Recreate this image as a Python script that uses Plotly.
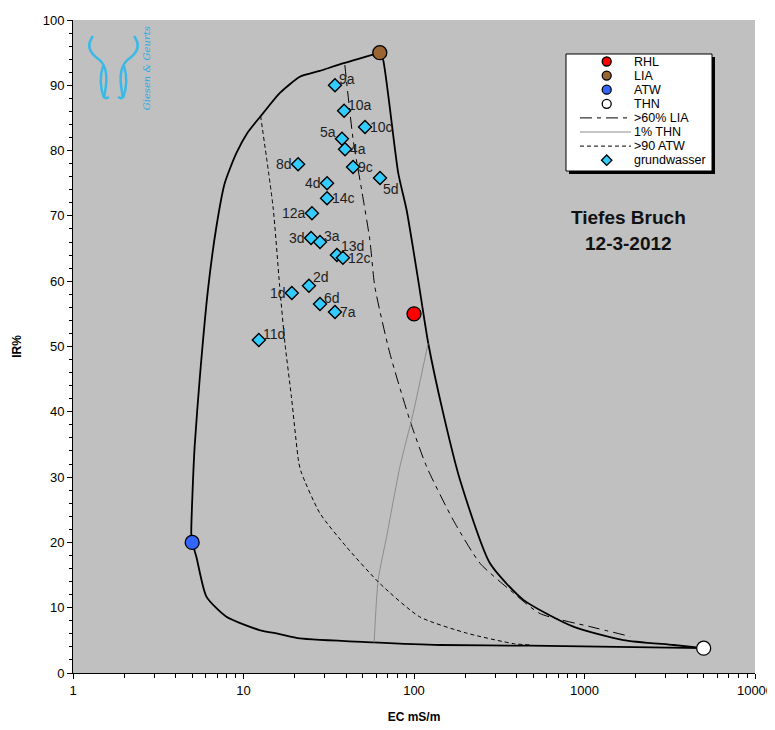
import math
import plotly.graph_objects as go

# End members
em_names = ["RHL", "LIA", "ATW", "THN"]
em_ec = [100, 63, 5, 5000]
em_ir = [55, 95, 20, 3.8]
em_colors = ["#FF0000", "#996633", "#3366FF", "#FFFFFF"]

# Groundwater samples
gw_labels = ["9a", "10a", "10c", "5a", "4a", "8d", "9c", "5d", "4d", "14c",
             "12a", "3d", "3a", "13d", "12c", "2d", "1d", "6d", "7a", "11d"]
gw_ec = [34.4, 38.9, 51.6, 37.8, 39.4, 20.9, 43.9, 63.2, 30.9, 30.9,
         25.2, 24.9, 28.1, 35.3, 38.3, 24.2, 19.2, 28.1, 34.4, 12.3]
gw_ir = [90.0, 86.1, 83.6, 81.8, 80.2, 77.9, 77.5, 75.8, 75.0, 72.7,
         70.4, 66.6, 66.0, 64.0, 63.6, 59.3, 58.2, 56.5, 55.3, 51.0]
gw_labelpos = ["tr", "tr", "r", "tl", "r", "l", "r", "br", "l", "r",
               "l", "l", "tr", "tr2", "r", "tr2", "l", "tr", "r", "tr"]

# Outer mixing envelope ATW -> LIA -> THN -> ATW
env_up_ec = [5, 4.94, 5.03, 5.17, 5.53, 6.19, 6.93, 7.76, 9.08, 10.6, 13.0, 16.3, 21.4, 28.0, 36.7, 63]
env_up_ir = [20, 21.4, 28, 34.7, 44.9, 58.7, 68.3, 75.0, 79.6, 82.8, 85.7, 88.8, 91.3, 92.2, 93.2, 95]
env_right_ec = [63, 65.9, 80.8, 90.5, 105.8, 121.2, 148.3, 186, 279, 438, 860, 1692, 3327, 5000]
env_right_ir = [95, 93.9, 76.6, 70.9, 60.2, 50.5, 39.8, 29.6, 16.8, 11.2, 7.1, 5.05, 4.29, 3.8]
env_bot_ec = [5000, 480, 142, 57.6, 21.4, 16.3, 12.4, 7.94, 6.06, 5.29, 5]
env_bot_ir = [3.8, 4.18, 4.29, 4.70, 5.31, 5.97, 6.58, 8.62, 11.7, 17.8, 20]

# >60% LIA
lia_ec = [39.3, 44.0, 49.3, 55.1, 58.9, 72.1, 94.6, 118.6, 170, 244, 366, 549, 1079, 1853]
lia_ir = [93.1, 81.6, 74.0, 66.3, 59.2, 49.0, 38.7, 31.6, 23.4, 16.8, 12.7, 9.1, 7.1, 5.6]

# 1% THN
thn_ec = [58.4, 61.6, 69.1, 82.7, 98.9, 121]
thn_ir = [4.7, 14.2, 20.9, 31.6, 39.8, 50.5]

# >90 ATW
atw_ec = [12.6, 14.9, 16.3, 17.5, 19.1, 21.1, 21.9, 28.0, 40.2, 63.1, 108, 204, 383, 480]
atw_ir = [85.3, 71.4, 59.2, 50.5, 42.3, 32.2, 30.6, 24.5, 19.3, 13.7, 8.6, 6.1, 4.5, 4.3]

# Axis ticks
x_tickvals = [1, 10, 100, 1000, 10000]
x_ticktext = ["1", "10", "100", "1000", "10000"]
x_minorvals = [m * 10 ** d for d in range(4) for m in range(2, 10)]

# Legend entries
leg_names = ["RHL", "LIA", "ATW", "THN", ">60% LIA", "1% THN", ">90 ATW", "grundwasser"]

FONT = "Arial, Liberation Sans, sans-serif"
LIA_DASH = "12px,5px,4px,5px"
ATW_DASH = "4px,3px"
SPL = dict(shape="spline", smoothing=0.6)

fig = go.Figure()

for ex, ey in [(env_up_ec, env_up_ir), (env_right_ec, env_right_ir), (env_bot_ec, env_bot_ir)]:
    fig.add_trace(go.Scatter(x=ex, y=ey, mode="lines", line=dict(color="black", width=1.8, **SPL),
                             showlegend=False, hoverinfo="skip"))

fig.add_trace(go.Scatter(x=lia_ec, y=lia_ir, mode="lines", line=dict(color="black", width=1, dash=LIA_DASH, **SPL),
                         showlegend=False))
fig.add_trace(go.Scatter(x=thn_ec, y=thn_ir, mode="lines", line=dict(color="#8C8C8C", width=1, **SPL),
                         showlegend=False))
fig.add_trace(go.Scatter(x=atw_ec, y=atw_ir, mode="lines", line=dict(color="black", width=1, dash=ATW_DASH, **SPL),
                         showlegend=False))

for n, xv, yv, c in zip(em_names, em_ec, em_ir, em_colors):
    fig.add_trace(go.Scatter(x=[xv], y=[yv], mode="markers", name=n, showlegend=False,
                             marker=dict(symbol="circle", size=14, color=c, line=dict(color="black", width=1.3))))

fig.add_trace(go.Scatter(x=gw_ec, y=gw_ir, mode="markers", name="grundwasser", showlegend=False,
                         marker=dict(symbol="diamond", size=10, color="#33CCFF", line=dict(color="black", width=1.4))))

pos_style = {
    "tr": dict(xanchor="left", xshift=2, yshift=6),
    "tr2": dict(xanchor="left", xshift=2, yshift=9),
    "r": dict(xanchor="left", xshift=3, yshift=0),
    "tl": dict(xanchor="right", xshift=-4, yshift=7),
    "l": dict(xanchor="right", xshift=-4, yshift=0),
    "br": dict(xanchor="left", xshift=1, yshift=-11),
}
for lab, xv, yv, p in zip(gw_labels, gw_ec, gw_ir, gw_labelpos):
    fig.add_annotation(x=math.log10(xv), y=yv, text=lab, showarrow=False, yanchor="middle",
                       font=dict(family=FONT, size=14, color="#1E1E1E"), **pos_style[p])

# Title inside plot
fig.add_annotation(x=0.815, y=0.697, xref="paper", yref="paper", showarrow=False,
                   xanchor="center", yanchor="middle",
                   text="<b>Tiefes Bruch</b>", font=dict(family=FONT, size=19, color="#111111"))
fig.add_annotation(x=0.815, y=0.657, xref="paper", yref="paper", showarrow=False,
                   xanchor="center", yanchor="middle",
                   text="<b>12-3-2012</b>", font=dict(family=FONT, size=19, color="#111111"))

# Logo (decorative)
fig.add_annotation(x=0.107, y=0.926, xref="paper", yref="paper", showarrow=False,
                   xanchor="center", yanchor="middle",
                   text="<i>Giesen &amp; Geurts</i>", textangle=-90,
                   font=dict(family="DejaVu Serif", size=10, color="#29ABE2"))
logo_paths = [
    "M 93,36 Q 84,48 97,58 Q 110,66 105,92 Q 103,101 109,97",
    "M 134,36 Q 143,48 130,58 Q 117,66 122,92 Q 124,101 118,97",
    "M 103,66 Q 98,82 104,98",
    "M 124,66 Q 129,82 123,98",
]
for pth in logo_paths:
    fig.add_shape(type="path", xref="x2", yref="y2", path=pth, layer="below",
                  line=dict(color="#3BB9E6", width=2.5))

# ---- manual legend (overlaid helper axes in local units) ----
lx0, lx1, ly0, ly1 = 566, 712, 54, 171
fig.add_shape(type="rect", xref="x2", yref="y2", x0=lx0 + 3, x1=lx1 + 3, y0=ly0 + 3, y1=ly1 + 3,
              fillcolor="black", line=dict(width=0), layer="below")
fig.add_shape(type="rect", xref="x2", yref="y2", x0=lx0, x1=lx1, y0=ly0, y1=ly1,
              fillcolor="white", line=dict(color="black", width=1), layer="below")
rows = [61.5 + 14.1 * i for i in range(8)]
for i, (n, c) in enumerate(zip(em_names, em_colors)):
    fig.add_trace(go.Scatter(x=[606.7], y=[rows[i]], xaxis="x2", yaxis="y2", mode="markers", showlegend=False,
                             marker=dict(symbol="circle", size=9, color=c, line=dict(color="black", width=1.3))))
for i, (dash, col) in zip([4, 5, 6], [(LIA_DASH, "black"), ("solid", "#8C8C8C"), (ATW_DASH, "black")]):
    fig.add_trace(go.Scatter(x=[580, 631], y=[rows[i], rows[i]], xaxis="x2", yaxis="y2", mode="lines",
                             showlegend=False, line=dict(color=col, width=1, dash=dash)))
fig.add_trace(go.Scatter(x=[606.7], y=[rows[7]], xaxis="x2", yaxis="y2", mode="markers", showlegend=False,
                         marker=dict(symbol="diamond", size=8, color="#33CCFF", line=dict(color="black", width=1.3))))
for i, n in enumerate(leg_names):
    fig.add_annotation(x=632, y=rows[i], xref="x2", yref="y2", text=n, showarrow=False,
                       xanchor="left", yanchor="middle", font=dict(family=FONT, size=12.5, color="black"))

fig.update_layout(
    width=767, height=722,
    margin=dict(l=65, r=20, t=12, b=57),
    paper_bgcolor="white", plot_bgcolor="#C0C0C0",
    font=dict(family=FONT, size=13, color="black"),
    showlegend=False,
    xaxis=dict(type="log", range=[0, 4], tickvals=x_tickvals, ticktext=x_ticktext, automargin=False,
               ticks="outside", ticklen=5, tickcolor="black", showgrid=False, zeroline=False,
               showline=True, linecolor="black", linewidth=1,
               tickfont=dict(size=13),
               minor=dict(ticks="outside", ticklen=4, tickcolor="black", showgrid=False, tickvals=x_minorvals),
               title=dict(text="<b>EC mS/m</b>", font=dict(size=12), standoff=16)),
    yaxis=dict(range=[0, 100], dtick=10, ticks="outside", ticklen=5, tickcolor="black", automargin=False,
               showgrid=False, zeroline=False, showline=True, linecolor="black", linewidth=1,
               tickfont=dict(size=13),
               minor=dict(ticks="outside", ticklen=3, dtick=2, tickcolor="black", showgrid=False),
               title=dict(text="<b>IR%</b>", font=dict(size=12), standoff=18)),
    xaxis2=dict(overlaying="x", range=[73, 755], visible=False, anchor="y2", fixedrange=True),
    yaxis2=dict(overlaying="y", range=[673, 20], visible=False, anchor="x2", fixedrange=True),
)

fig.write_html("out.html")
